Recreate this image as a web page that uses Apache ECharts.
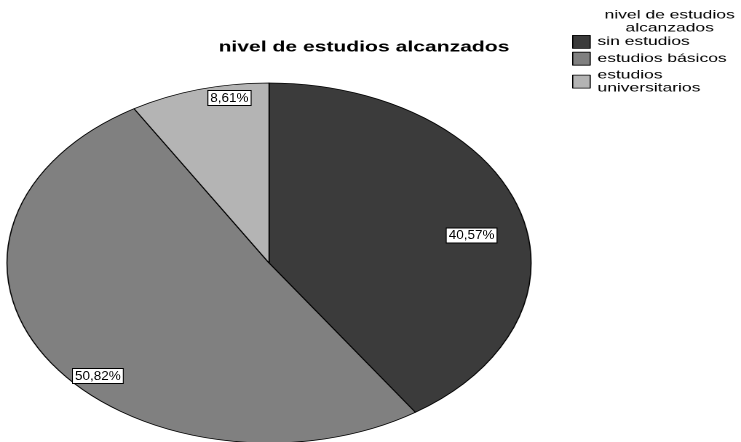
<!DOCTYPE html>
<html><head><meta charset="utf-8">
<script src="https://cdn.jsdelivr.net/npm/echarts@6/dist/echarts.min.js"></script>
<style>
html,body{margin:0;padding:0;background:#fff;overflow:hidden}
#wrap{position:relative;width:741px;height:442px;overflow:hidden;background:#fff}
#main{position:absolute;left:0;top:0;width:509px;height:442px;transform-origin:0 0;transform:scaleX(1.4558)}
#labels{position:absolute;left:0;top:0;width:741px;height:442px}
</style></head><body>
<div id="wrap"><div id="main"></div><div id="labels"></div></div>
<script>
// ---- data ----
const chartTitle = 'nivel de estudios alcanzados';
const legendTitle = 'nivel de estudios\nalcanzados';
const categories = ['sin estudios', 'estudios básicos', 'estudios universitarios'];
const legendLabels = ['sin estudios', 'estudios básicos', 'estudios\nuniversitarios'];
const values = [40.57, 50.82, 8.61];
const colors = ['#3b3b3b', '#808080', '#b4b4b4'];

// ---- layout ----
const FONT = '"Liberation Sans", Arial, sans-serif';
const SX = 741 / 509;           // horizontal stretch of the picture
const RY = 180;                 // pie radius (vertical)
const CY = 263;
const CX_UNSTRETCHED = 184.8;
const CX = CX_UNSTRETCHED * SX;
const RX = RY * SX;
const labelAnchor = [[0.773, -0.153], [-0.653, 0.628], [-0.151, -0.917]];

const fmt = v => v.toFixed(2).replace('.', ',') + '%';
const pieData = categories.map((c, i) => ({ name: c, value: values[i], itemStyle: { color: colors[i] } }));
const labelData = categories.map((c, i) => ({ name: c, value: values[i] }));

const main = echarts.init(document.getElementById('main'), null, { renderer: 'canvas', devicePixelRatio: 2 });
main.setOption({
  animation: false,
  backgroundColor: '#fff',
  title: [
    { text: chartTitle, left: 250, top: 40, textAlign: 'center', padding: 0,
      textStyle: { fontFamily: FONT, fontSize: 14.5, fontWeight: 'bold', color: '#000' } },
    { text: legendTitle, left: 460, top: 8.5, textAlign: 'center', padding: 0,
      textStyle: { fontFamily: FONT, fontSize: 12, fontWeight: 'normal', lineHeight: 13, color: '#000' } }
  ],
  legend: {
    orient: 'vertical', left: 393, top: 35, padding: 0,
    itemWidth: 12, itemHeight: 13, itemGap: 3, icon: 'rect',
    selectedMode: false,
    itemStyle: { borderColor: '#000', borderWidth: 0.8 },
    textStyle: { fontFamily: FONT, fontSize: 12, lineHeight: 13, color: '#000' },
    formatter: name => legendLabels[categories.indexOf(name)],
    data: categories
  },
  series: [{
    type: 'pie',
    center: [CX_UNSTRETCHED, CY], radius: RY,
    startAngle: 90, clockwise: true,
    silent: true,
    label: { show: false }, labelLine: { show: false },
    itemStyle: { borderColor: '#000', borderWidth: 0.8 },
    emphasis: { disabled: true },
    data: pieData
  }]
});

const labels = echarts.init(document.getElementById('labels'), null, { renderer: 'canvas' });
labels.setOption({
  animation: false,
  series: [{
    type: 'pie',
    center: [CX, CY], radius: RY,
    startAngle: 90, clockwise: true,
    silent: true,
    itemStyle: { color: 'rgba(0,0,0,0)', borderWidth: 0 },
    emphasis: { disabled: true },
    labelLine: { show: false },
    label: {
      show: true, position: 'inside',
      formatter: p => fmt(p.value),
      fontFamily: FONT, fontSize: 13.5, lineHeight: 13, color: '#000',
      backgroundColor: '#fff', borderColor: '#000', borderWidth: 1,
      padding: [1, 2, 0, 2]
    },
    labelLayout: p => {
      const a = labelAnchor[p.dataIndex];
      return { x: CX + a[0] * RX, y: CY + a[1] * RY, align: 'center', verticalAlign: 'middle' };
    },
    data: labelData
  }]
});
</script>
</body></html>
